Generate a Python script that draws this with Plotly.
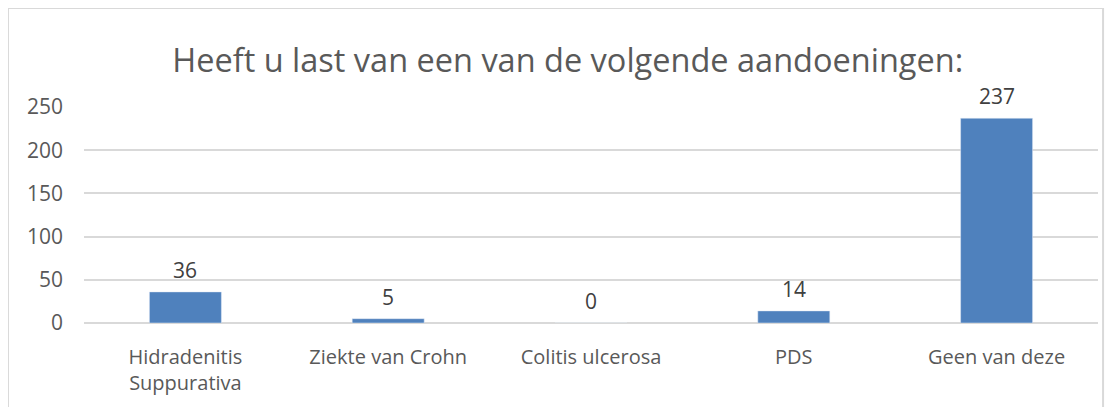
import plotly.graph_objects as go

categories = ["Hidradenitis<br>Suppurativa", "Ziekte van Crohn", "Colitis ulcerosa", "PDS", "Geen van deze"]
counts = [36, 5, 0, 14, 237]
y_ticks = [0, 50, 100, 150, 200, 250]

fig = go.Figure()
fig.add_trace(go.Bar(
    x=categories, y=counts,
    marker_color="#4F81BD",
    showlegend=False,
))

# data labels above the bars
for cat, val in zip(categories, counts):
    fig.add_annotation(x=cat, y=val, text=str(val), showarrow=False,
                       yanchor="bottom", yshift=6,
                       font=dict(size=21, color="#404040"))

fig.update_layout(
    width=1115, height=407,
    margin=dict(l=76, r=25, t=99, b=92),
    paper_bgcolor="white", plot_bgcolor="white",
    font=dict(family="Open Sans, Liberation Sans, sans-serif", color="#595959"),
    title=dict(
        text="Heeft u last van een van de volgende aandoeningen:",
        x=0.502, xanchor="center", y=0.87, yanchor="middle",
        font=dict(size=32.5, color="#595959"),
    ),
    bargap=0.645,
)
fig.update_xaxes(
    showgrid=False, showline=False, ticks="", automargin=False,
    ticklabelstandoff=20,
    tickfont=dict(size=20, color="#595959"),
)
fig.update_yaxes(
    range=[0, 250], tickvals=y_ticks, automargin=False,
    gridcolor="#D9D9D9", gridwidth=1.5,
    zeroline=True, zerolinecolor="#D9D9D9", zerolinewidth=1.5,
    showline=False, ticks="", ticklabelstandoff=20,
    tickfont=dict(size=21, color="#595959"),
)

# chart frame
fig.add_shape(type="rect", xref="paper", yref="paper",
              x0=-0.075, x1=1.005, y0=-0.6, y1=1.458,
              line=dict(color="#D9D9D9", width=2), layer="below")

fig.write_html("out.html")
